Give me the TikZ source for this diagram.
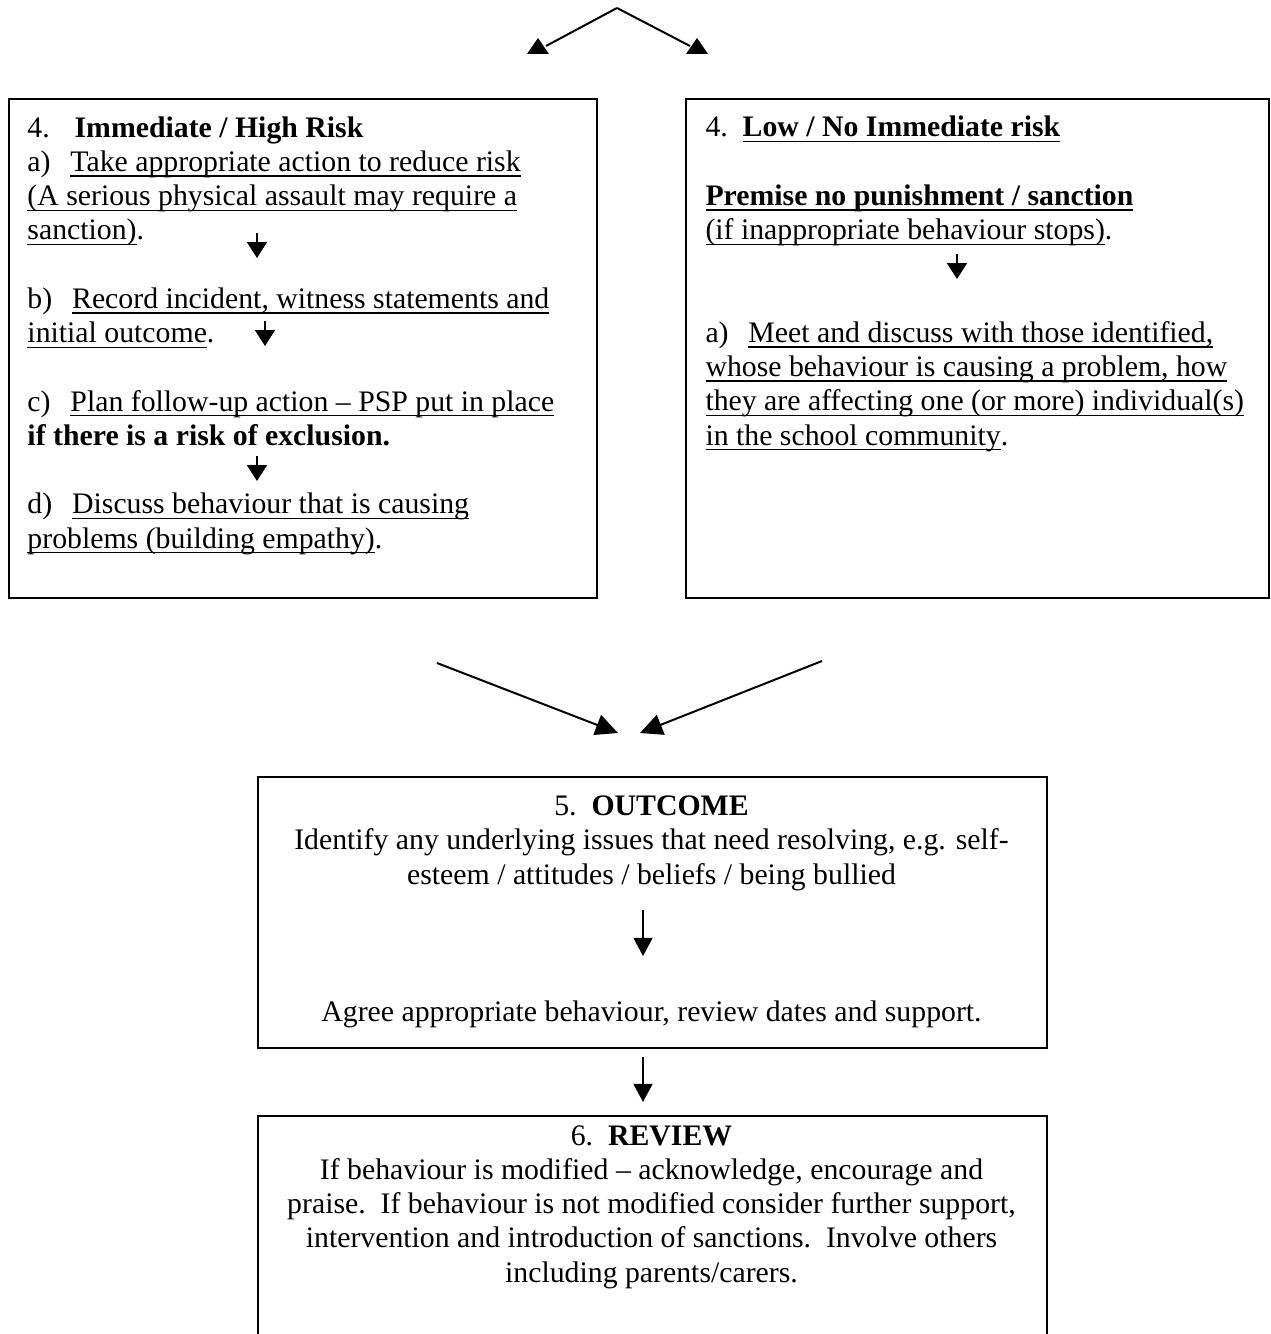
\documentclass[tikz,border=0pt]{standalone}
\usepackage{fontspec}
\setmainfont{Liberation Serif}
\usepackage{tikz}
\usetikzlibrary{arrows.meta}
\newcommand{\pxu}{0.403pt}
\newcommand{\undl}[1]{\setbox0\hbox{#1}\rlap{\rule[-2.2pt]{\wd0}{0.6pt}}\box0}

\begin{document}
\begin{tikzpicture}[x=\pxu,y=-\pxu,>={Triangle[length=9pt,width=8.5pt]},font=\fontsize{12}{13.8}\selectfont]
		\tikzstyle{box}=[rectangle, draw=black, line width=0.8pt, inner sep=0pt, anchor=north west]
		\tikzstyle{lines}=[inner sep=0pt, align=left, anchor=base west]
		\tikzstyle{mid lines}=[inner sep=0pt, align=center, anchor=base]
		\tikzstyle{link}=[->, line width=0.8pt]
		\tikzstyle{plain link}=[line width=0.8pt]
		\tikzstyle{small link}=[-{Triangle[length=6.4pt,width=8pt]}, line width=0.8pt]
		\tikzstyle{down link}=[-{Triangle[length=7.3pt,width=7.6pt]}, line width=0.8pt]

		\useasboundingbox (0,0) rectangle (1270,1334);

		\node [box, minimum width=588*\pxu, minimum height=499*\pxu] (high) at (8,98) {};
		\node [box, minimum width=583*\pxu, minimum height=499*\pxu] (low) at (685,98) {};
		\node [box, minimum width=789*\pxu, minimum height=271*\pxu] (outcome) at (257,776) {};
		\node [box, minimum width=789*\pxu, minimum height=240*\pxu] (review) at (257,1115) {};

		\node [lines] (hightxt) at (27,548) {4.\hspace{10pt}\textbf{Immediate / High Risk}\\
			a)\hspace{8pt}\undl{Take appropriate action to reduce risk}\\
			\undl{(A serious physical assault may require a}\\
			\undl{sanction)}.\\[13.8pt]
			b)\hspace{8pt}\undl{Record incident, witness statements and}\\
			\undl{initial outcome}.\\[13.8pt]
			c)\hspace{8pt}\undl{Plan follow-up action – PSP put in place}\\
			\textbf{if there is a risk of exclusion.}\\[13.8pt]
			d)\hspace{8pt}\undl{Discuss behaviour that is causing}\\
			\undl{problems (building empathy)}.};
		\node [lines] (lowtxt) at (705,445) {4.\ \ \textbf{\undl{Low / No Immediate risk}}\\[13.8pt]
			\textbf{\undl{Premise no punishment / sanction}}\\
			\undl{(if inappropriate behaviour stops)}.\\[27.6pt]
			a)\hspace{8pt}\undl{Meet and discuss with those identified,}\\
			\undl{whose behaviour is causing a problem, how}\\
			\undl{they are affecting one (or more) individual(s)}\\
			\undl{in the school community}.};
		\node [mid lines] (outcometxt) at (651.5,1021) {5.\ \ \textbf{OUTCOME}\\
			Identify any underlying issues that need resolving, e.g. self-\\
			esteem / attitudes / beliefs / being bullied\\[41.4pt]
			Agree appropriate behaviour, review dates and support.};
		\node [mid lines] (reviewtxt) at (651.5,1282) {6.\ \ \textbf{REVIEW}\\
			If behaviour is modified – acknowledge, encourage and\\
			praise.\ \ If behaviour is not modified consider further support,\\
			intervention and introduction of sanctions.\ \ Involve others\\
			including parents/carers.};

		\coordinate (peak) at (617,8);
		\coordinate (tohigh) at (546,46);
		\coordinate (tolow) at (690,46);
		\coordinate (headhigh) at (538,38);
		\coordinate (headlow) at (697,38);
		\coordinate (fromhigh) at (437,663);
		\coordinate (fromlow) at (822,661);
		\coordinate (inhigh) at (618,733);
		\coordinate (inlow) at (640,733);
		\coordinate (s1) at (257,233);
		\coordinate (e1) at (257,258);
		\coordinate (s2) at (265,321);
		\coordinate (e2) at (265,346);
		\coordinate (s3) at (257,456);
		\coordinate (e3) at (257,481);
		\coordinate (s4) at (957,254);
		\coordinate (e4) at (957,279);
		\coordinate (s5) at (643,910);
		\coordinate (e5) at (643,956);
		\coordinate (s6) at (643,1057);
		\coordinate (e6) at (643,1102);

		\draw [plain link] (peak) -- (tohigh);
		\draw [plain link] (peak) -- (tolow);
		\fill (headhigh) -- ++(-11,16) -- ++(22,0) -- cycle;
		\fill (headlow) -- ++(-11,16) -- ++(22,0) -- cycle;
		\draw [link] (fromhigh) -- (inhigh);
		\draw [link] (fromlow) -- (inlow);
		\draw [small link] (s1) -- (e1);
		\draw [small link] (s2) -- (e2);
		\draw [small link] (s3) -- (e3);
		\draw [small link] (s4) -- (e4);
		\draw [down link] (s5) -- (e5);
		\draw [down link] (s6) -- (e6);
	\end{tikzpicture}
\end{document}
